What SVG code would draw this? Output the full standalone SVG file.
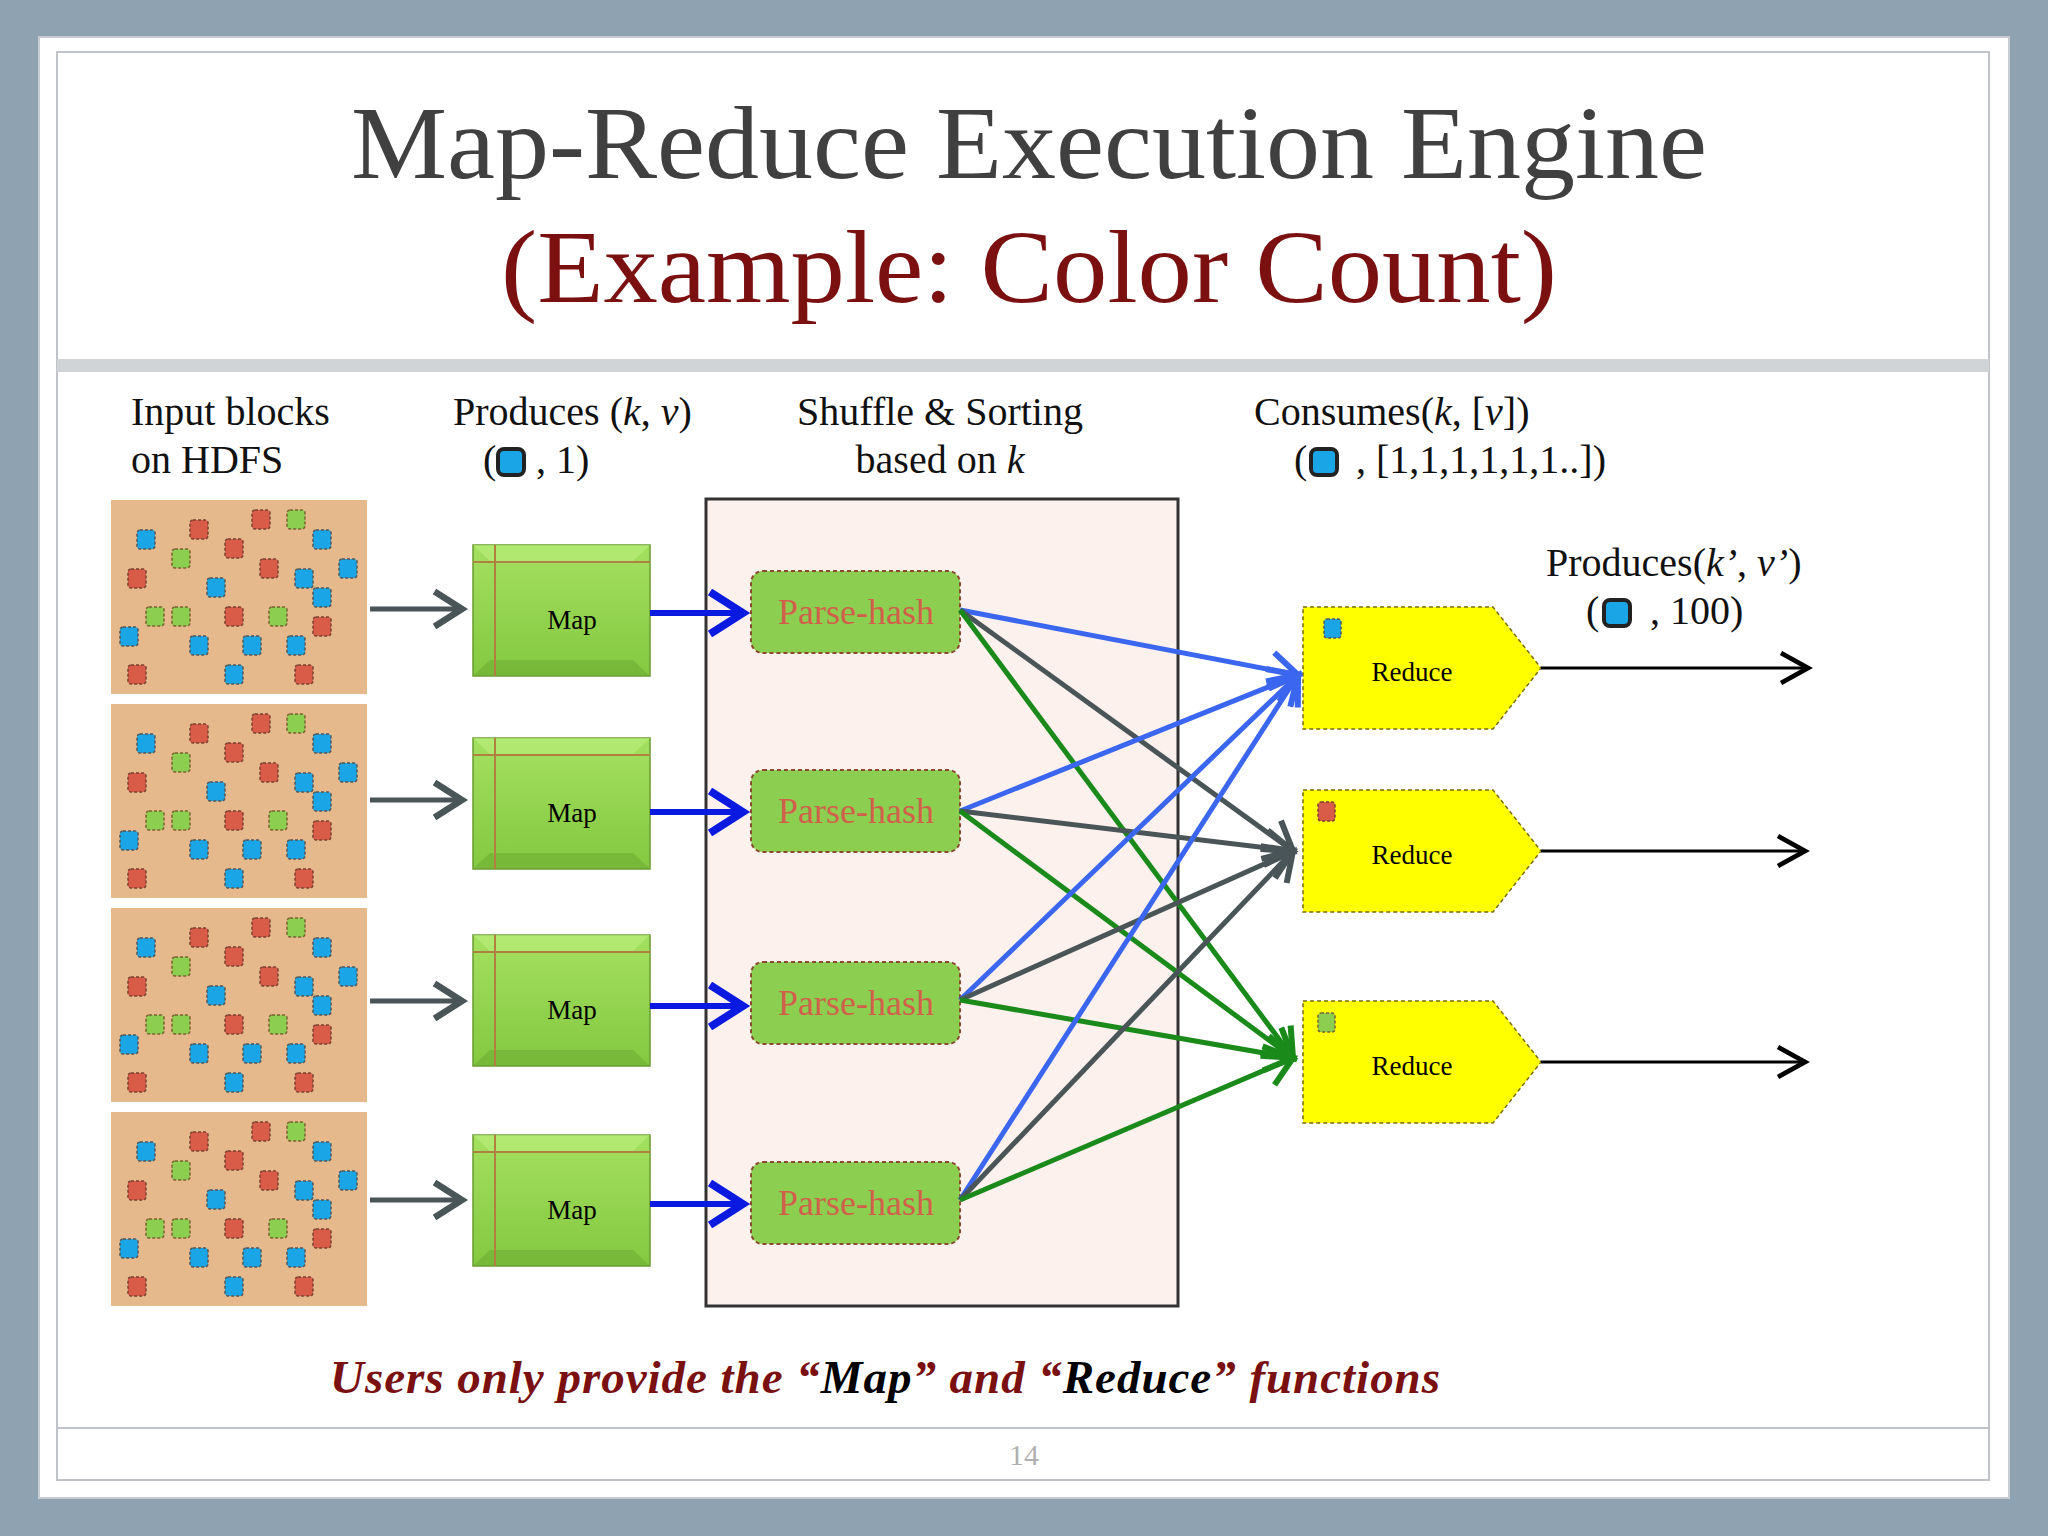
<svg xmlns="http://www.w3.org/2000/svg" width="2048" height="1536" viewBox="0 0 2048 1536" xmlns:xlink="http://www.w3.org/1999/xlink">
<style>
.s{font-family:"Liberation Serif",serif}
.h{font-family:"Liberation Serif",serif;font-size:40px;fill:#111}
.ph{font-family:"Liberation Serif",serif;font-size:36px;fill:#d0604a;text-anchor:middle}
.mt{font-family:"Liberation Serif",serif;font-size:27px;fill:#000;text-anchor:middle}
.b{fill:#1aa6e6;stroke:#555;stroke-width:1.5;stroke-dasharray:3 2}
.r{fill:#d85c48;stroke:#7a4030;stroke-width:1.5;stroke-dasharray:3 2}
.g{fill:#8ccf50;stroke:#7a6030;stroke-width:1.5;stroke-dasharray:3 2}
.c1{stroke:#3a66f0;stroke-width:5;fill:none;marker-end:url(#mb)}
.c2{stroke:#4a5558;stroke-width:5;fill:none;marker-end:url(#mg)}
.c3{stroke:#1a8a1a;stroke-width:5;fill:none;marker-end:url(#mn)}
</style>
<defs>
<marker id="mb" markerWidth="8" markerHeight="8" refX="6" refY="4" orient="auto" markerUnits="strokeWidth"><path d="M0.5,0.5 L6,4 L0.5,7.5" fill="none" stroke="#3a66f0" stroke-width="1.2"/></marker>
<marker id="mg" markerWidth="8" markerHeight="8" refX="6" refY="4" orient="auto" markerUnits="strokeWidth"><path d="M0.5,0.5 L6,4 L0.5,7.5" fill="none" stroke="#4a5558" stroke-width="1.2"/></marker>
<marker id="mn" markerWidth="8" markerHeight="8" refX="6" refY="4" orient="auto" markerUnits="strokeWidth"><path d="M0.5,0.5 L6,4 L0.5,7.5" fill="none" stroke="#1a8a1a" stroke-width="1.2"/></marker>
<marker id="mk" markerWidth="12" markerHeight="12" refX="10" refY="6" orient="auto" markerUnits="strokeWidth"><path d="M1,1 L10,6 L1,11" fill="none" stroke="#000" stroke-width="1.6"/></marker>
<marker id="mu" markerWidth="8" markerHeight="8" refX="6" refY="4" orient="auto" markerUnits="strokeWidth"><path d="M0.5,0.5 L6,4 L0.5,7.5" fill="none" stroke="#0a1ae0" stroke-width="1.3"/></marker>
<marker id="ma" markerWidth="8" markerHeight="8" refX="6" refY="4" orient="auto" markerUnits="strokeWidth"><path d="M0.5,0.5 L6,4 L0.5,7.5" fill="none" stroke="#4a5558" stroke-width="1.3"/></marker>
<linearGradient id="mapg" x1="0" y1="0" x2="0" y2="1"><stop offset="0" stop-color="#a4e060"/><stop offset="1" stop-color="#84c840"/></linearGradient>
<g id="blk">
<rect x="0" y="0" width="256" height="194" fill="#e6b98c"/>
<g transform="translate(-9,-9)">
<rect class="b" x="35" y="39" width="18" height="19" rx="3"/><rect class="r" x="88" y="29" width="18" height="19" rx="3"/><rect class="r" x="150" y="19" width="18" height="19" rx="3"/><rect class="g" x="185" y="19" width="18" height="19" rx="3"/><rect class="b" x="211" y="39" width="18" height="19" rx="3"/><rect class="g" x="70" y="58" width="18" height="19" rx="3"/><rect class="r" x="123" y="48" width="18" height="19" rx="3"/><rect class="r" x="158" y="68" width="18" height="19" rx="3"/><rect class="b" x="237" y="68" width="18" height="19" rx="3"/><rect class="r" x="26" y="78" width="18" height="19" rx="3"/><rect class="b" x="105" y="87" width="18" height="19" rx="3"/><rect class="b" x="193" y="78" width="18" height="19" rx="3"/><rect class="b" x="211" y="97" width="18" height="19" rx="3"/><rect class="g" x="44" y="116" width="18" height="19" rx="3"/><rect class="g" x="70" y="116" width="18" height="19" rx="3"/><rect class="r" x="123" y="116" width="18" height="19" rx="3"/><rect class="g" x="167" y="116" width="18" height="19" rx="3"/><rect class="r" x="211" y="126" width="18" height="19" rx="3"/><rect class="b" x="18" y="136" width="18" height="19" rx="3"/><rect class="b" x="88" y="145" width="18" height="19" rx="3"/><rect class="b" x="141" y="145" width="18" height="19" rx="3"/><rect class="b" x="185" y="145" width="18" height="19" rx="3"/><rect class="r" x="26" y="174" width="18" height="19" rx="3"/><rect class="b" x="123" y="174" width="18" height="19" rx="3"/><rect class="r" x="193" y="174" width="18" height="19" rx="3"/>
</g></g>
<g id="map">
<rect x="0" y="0" width="177" height="131" fill="url(#mapg)" stroke="#6a9a30" stroke-width="1.5"/>
<path d="M0,0 L177,0 L160,16 L17,16 Z" fill="#b8ec78" opacity="0.7"/>
<path d="M0,131 L177,131 L160,115 L17,115 Z" fill="#6aa830" opacity="0.5"/>
<line x1="0" y1="17" x2="177" y2="17" stroke="#b08040" stroke-width="2"/>
<line x1="22" y1="0" x2="22" y2="131" stroke="#b08040" stroke-width="2"/>
</g>
<path id="red" d="M0,0 H190 L238,61 L190,122 H0 Z" fill="#ffff00" stroke="#7a6a00" stroke-width="1.5" stroke-dasharray="4 3"/>
</defs>
<rect width="2048" height="1536" fill="#8fa2b2"/>
<rect x="39" y="37" width="1970" height="1461" fill="#fff" stroke="#c8ccd0" stroke-width="2"/>
<rect x="57" y="52" width="1932" height="1428" fill="none" stroke="#c0c4c8" stroke-width="2"/>
<rect x="57" y="359" width="1932" height="13" fill="#d0d4d6"/>
<line x1="57" y1="1428" x2="1989" y2="1428" stroke="#c0c4c8" stroke-width="2"/>
<text class="s" x="1029" y="178" font-size="104" fill="#404040" text-anchor="middle" textLength="1356" lengthAdjust="spacingAndGlyphs">Map-Reduce Execution Engine</text>
<text class="s" x="1029" y="302" font-size="104" fill="#7a1010" text-anchor="middle" textLength="1056" lengthAdjust="spacingAndGlyphs">(Example: Color Count)</text>
<text class="h" x="131" y="425">Input blocks</text>
<text class="h" x="131" y="473">on HDFS</text>
<text class="h" x="453" y="425">Produces (<tspan font-style="italic">k</tspan>, <tspan font-style="italic">v</tspan>)</text>
<text class="h" x="483" y="473">(</text><text class="h" x="536" y="473">, 1)</text>
<rect x="498" y="449" width="26" height="26" rx="6" fill="#1aa6e6" stroke="#222" stroke-width="4"/>
<text class="h" x="940" y="425" text-anchor="middle">Shuffle &amp; Sorting</text>
<text class="h" x="940" y="473" text-anchor="middle">based on <tspan font-style="italic">k</tspan></text>
<text class="h" x="1254" y="425">Consumes(<tspan font-style="italic">k</tspan>, [<tspan font-style="italic">v</tspan>])</text>
<text class="h" x="1294" y="473">(</text><text class="h" x="1356" y="473">, [1,1,1,1,1,1..])</text>
<rect x="1311" y="449" width="26" height="26" rx="6" fill="#1aa6e6" stroke="#222" stroke-width="4"/>
<text class="h" x="1546" y="576">Produces(<tspan font-style="italic">k’</tspan>, <tspan font-style="italic">v’</tspan>)</text>
<text class="h" x="1586" y="624">(</text><text class="h" x="1650" y="624">, 100)</text>
<rect x="1604" y="600" width="26" height="26" rx="6" fill="#1aa6e6" stroke="#222" stroke-width="4"/>
<g id="inputs"><use xlink:href="#blk" x="111" y="500"/><use xlink:href="#blk" x="111" y="704"/><use xlink:href="#blk" x="111" y="908"/><use xlink:href="#blk" x="111" y="1112"/></g>
<g id="shuffle"><rect x="706" y="499" width="472" height="807" fill="#fdf1ee" stroke="#333" stroke-width="3"/></g>
<g id="map1"><use xlink:href="#map" x="473" y="545"/><text class="mt" x="572" y="629">Map</text></g>
<g id="map2"><use xlink:href="#map" x="473" y="738"/><text class="mt" x="572" y="822">Map</text></g>
<g id="map3"><use xlink:href="#map" x="473" y="935"/><text class="mt" x="572" y="1019">Map</text></g>
<g id="map4"><use xlink:href="#map" x="473" y="1135"/><text class="mt" x="572" y="1219">Map</text></g>
<g id="ph1"><rect x="751" y="571" width="209" height="82" rx="12" fill="#8ccf50" stroke="#8a4a30" stroke-width="2" stroke-dasharray="4 3"/><text class="ph" x="856" y="624">Parse-hash</text></g>
<g id="ph2"><rect x="751" y="770" width="209" height="82" rx="12" fill="#8ccf50" stroke="#8a4a30" stroke-width="2" stroke-dasharray="4 3"/><text class="ph" x="856" y="823">Parse-hash</text></g>
<g id="ph3"><rect x="751" y="962" width="209" height="82" rx="12" fill="#8ccf50" stroke="#8a4a30" stroke-width="2" stroke-dasharray="4 3"/><text class="ph" x="856" y="1015">Parse-hash</text></g>
<g id="ph4"><rect x="751" y="1162" width="209" height="82" rx="12" fill="#8ccf50" stroke="#8a4a30" stroke-width="2" stroke-dasharray="4 3"/><text class="ph" x="856" y="1215">Parse-hash</text></g>
<g id="r1"><use xlink:href="#red" x="1303" y="607"/><rect x="1324" y="619" width="17" height="19" rx="3" class="b"/><text class="mt" x="1412" y="681">Reduce</text></g>
<g id="r2"><use xlink:href="#red" x="1303" y="790"/><rect x="1318" y="802" width="17" height="19" rx="3" class="r"/><text class="mt" x="1412" y="864">Reduce</text></g>
<g id="r3"><use xlink:href="#red" x="1303" y="1001"/><rect x="1318" y="1013" width="17" height="19" rx="3" class="g"/><text class="mt" x="1412" y="1075">Reduce</text></g>
<g id="connectors">
<g stroke="#4a5558" stroke-width="5" marker-end="url(#ma)">
<line x1="370" y1="609" x2="462" y2="609"/><line x1="370" y1="800" x2="462" y2="800"/><line x1="370" y1="1001" x2="462" y2="1001"/><line x1="370" y1="1200" x2="462" y2="1200"/>
</g>
<g stroke="#0a1ae0" stroke-width="6" marker-end="url(#mu)">
<line x1="650" y1="613" x2="743" y2="613"/><line x1="650" y1="812" x2="743" y2="812"/><line x1="650" y1="1006" x2="743" y2="1006"/><line x1="650" y1="1204" x2="743" y2="1204"/>
</g>
<line class="c1" x1="960" y1="610" x2="1298" y2="675"/>
<line class="c2" x1="960" y1="610" x2="1293" y2="851"/>
<line class="c3" x1="960" y1="610" x2="1293" y2="1058"/>
<line class="c1" x1="960" y1="811" x2="1298" y2="675"/>
<line class="c2" x1="960" y1="811" x2="1293" y2="851"/>
<line class="c3" x1="960" y1="811" x2="1293" y2="1058"/>
<line class="c1" x1="960" y1="1000" x2="1298" y2="675"/>
<line class="c2" x1="960" y1="1000" x2="1293" y2="851"/>
<line class="c3" x1="960" y1="1000" x2="1293" y2="1058"/>
<line class="c1" x1="960" y1="1200" x2="1298" y2="675"/>
<line class="c2" x1="960" y1="1200" x2="1293" y2="851"/>
<line class="c3" x1="960" y1="1200" x2="1293" y2="1058"/>
<g stroke="#000" stroke-width="3" marker-end="url(#mk)">
<line x1="1541" y1="668" x2="1808" y2="668"/><line x1="1541" y1="851" x2="1805" y2="851"/><line x1="1541" y1="1062" x2="1805" y2="1062"/>
</g>
</g>
<text class="s" x="330" y="1393" font-size="47" font-style="italic" font-weight="bold" fill="#7a1010" textLength="1110">Users only provide the “<tspan fill="#000">Map</tspan>” and “<tspan fill="#000">Reduce</tspan>” functions</text>
<text class="s" x="1024" y="1465" font-size="30" fill="#b0b0b0" text-anchor="middle">14</text>
</svg>
